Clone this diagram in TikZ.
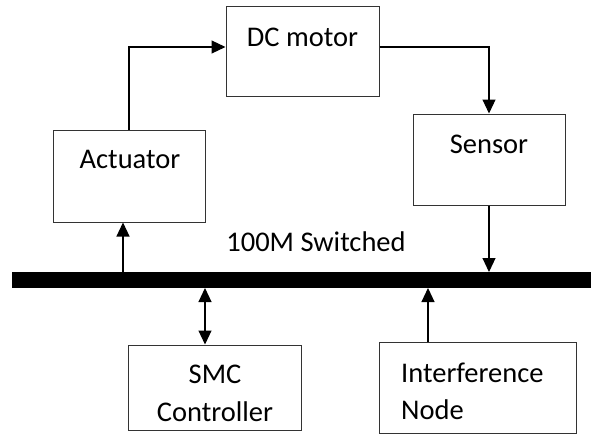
\documentclass[tikz,border=0pt]{standalone}
\usepackage{fontspec}
\setmainfont{Carlito}
\usetikzlibrary{arrows.meta}
\begin{document}
\begin{tikzpicture}[x=1pt,y=-1pt,
  box/.style={draw=black!80,line width=1pt,fill=white},
  lbl/.style={font=\fontsize{28.5}{34}\selectfont,inner sep=0pt,anchor=base},
  conn/.style={line width=1.1pt,-{Triangle[length=14pt,width=13pt]}},
  bconn/.style={line width=1.1pt,{Triangle[length=14pt,width=13pt]}-{Triangle[length=14pt,width=13pt]}}]
\useasboundingbox (0,0) rectangle (593,436);
% blocks
\node[box,minimum width=153pt,minimum height=89pt] (motor) at (302.5,51.5) {};
\node[box,minimum width=152pt,minimum height=92pt] (act) at (129,176) {};
\node[box,minimum width=152pt,minimum height=91pt] (sens) at (489,159.5) {};
\node[box,minimum width=173pt,minimum height=85pt] (smc) at (214.5,387.5) {};
\node[box,minimum width=197pt,minimum height=91pt] (intf) at (477.5,387.5) {};
% labels
\node[lbl] at (302.5,47) {DC motor};
\node[lbl] at (130,168) {Actuator};
\node[lbl] at (489,153) {Sensor};
\node[lbl] at (215,383) {SMC};
\node[lbl] at (215,421) {Controller};
\node[lbl,anchor=base west] at (401,382) {Interference};
\node[lbl,anchor=base west] at (401,419) {Node};
\node[lbl] (buslbl) at (316,251) {100M Switched};
% bus
\fill (12,272) rectangle (591,288);
\coordinate (busN) at (0,272);
\coordinate (busS) at (0,288);
% connectors
\draw[conn] (act.north) |- ([yshift=4.5pt]motor.west);
\draw[conn] ([yshift=4.5pt]motor.east) -| (sens.north);
\draw[conn] (sens.south) -- (sens.south |- busN);
\draw[conn] (123,0 |- busN) -- (123,0 |- act.south);
\draw[bconn] (205,0 |- busS) -- (205,0 |- smc.north);
\draw[conn] (428,0 |- intf.north) -- (428,0 |- busS);
\end{tikzpicture}
\end{document}
